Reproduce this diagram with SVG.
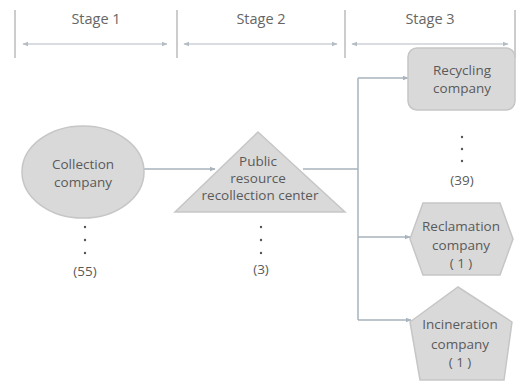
<svg xmlns="http://www.w3.org/2000/svg" width="531" height="387" viewBox="0 0 531 387">
<style>
text{font-family:"Open Sans","Liberation Sans",Arial,sans-serif;font-size:13.5px;fill:#5a5a5a;text-anchor:middle}
.stage{font-size:14.5px;fill:#666}
.bar{stroke:#bbb;stroke-width:1.5}
.span{stroke:#b4bcc4;stroke-width:1.2;fill:none}
.node{fill:#d9d9d9;stroke:#c6c6c6;stroke-width:1.5}
.conn{stroke:#a9b3bd;stroke-width:1.5;fill:none}
.dot{fill:#555}
</style>
<defs>
<marker id="ah" viewBox="0 0 10 10" refX="9" refY="5" markerWidth="5" markerHeight="5" orient="auto-start-reverse">
<path d="M0,1 L10,5 L0,9 z" fill="#b4bcc4"/>
</marker>
<marker id="ca" viewBox="0 0 10 10" refX="9" refY="5" markerWidth="4" markerHeight="4" orient="auto">
<path d="M0,1 L10,5 L0,9 z" fill="#a9b3bd"/>
</marker>
</defs>
<g id="stages">
<line class="bar" x1="15" y1="10" x2="15" y2="58"/>
<line class="bar" x1="177" y1="10" x2="177" y2="58"/>
<line class="bar" x1="345" y1="10" x2="345" y2="58"/>
<line class="bar" x1="515" y1="10" x2="515" y2="58"/>
<line class="span" x1="23" y1="44" x2="167" y2="44" marker-start="url(#ah)" marker-end="url(#ah)"/>
<line class="span" x1="184" y1="44" x2="337" y2="44" marker-start="url(#ah)" marker-end="url(#ah)"/>
<line class="span" x1="352" y1="44" x2="508" y2="44" marker-start="url(#ah)" marker-end="url(#ah)"/>
<text class="stage" x="96" y="24">Stage 1</text>
<text class="stage" x="261" y="24">Stage 2</text>
<text class="stage" x="430" y="24">Stage 3</text>
</g>
<g id="connectors">
<line class="conn" x1="144" y1="169" x2="215" y2="169" marker-end="url(#ca)"/>
<line class="conn" x1="303" y1="169" x2="358" y2="169"/>
<line class="conn" x1="358" y1="78" x2="358" y2="320"/>
<line class="conn" x1="358" y1="78" x2="408" y2="78" marker-end="url(#ca)"/>
<line class="conn" x1="358" y1="237" x2="410" y2="237" marker-end="url(#ca)"/>
<line class="conn" x1="358" y1="320" x2="411" y2="320" marker-end="url(#ca)"/>
</g>
<g id="collection">
<ellipse class="node" cx="83" cy="172" rx="61" ry="46"/>
<text x="83" y="169">Collection</text>
<text x="83" y="187">company</text>
<circle class="dot" cx="85" cy="227" r="1.2"/>
<circle class="dot" cx="85" cy="240" r="1.2"/>
<circle class="dot" cx="85" cy="253" r="1.2"/>
<text x="85" y="276">(55)</text>
</g>
<g id="center">
<polygon class="node" points="258,132 345,212 175,212"/>
<text x="258" y="166">Public</text>
<text x="258" y="183">resource</text>
<text x="260" y="200">recollection center</text>
<circle class="dot" cx="261" cy="227" r="1.2"/>
<circle class="dot" cx="261" cy="240" r="1.2"/>
<circle class="dot" cx="261" cy="253" r="1.2"/>
<text x="261" y="274">(3)</text>
</g>
<g id="recycling">
<rect class="node" x="408" y="48" width="107" height="62" rx="9"/>
<text x="462" y="75">Recycling</text>
<text x="462" y="93">company</text>
<circle class="dot" cx="462" cy="137" r="1.2"/>
<circle class="dot" cx="462" cy="149" r="1.2"/>
<circle class="dot" cx="462" cy="161" r="1.2"/>
<text x="462" y="185">(39)</text>
</g>
<g id="reclamation">
<polygon class="node" points="423,203 500,203 513,239 500,275 423,275 410,239"/>
<text x="461" y="231">Reclamation</text>
<text x="461" y="250">company</text>
<text x="461" y="268">( 1 )</text>
</g>
<g id="incineration">
<polygon class="node" points="458,287 512,322 504,380 420,380 410,322"/>
<text x="460" y="329">Incineration</text>
<text x="460" y="349">company</text>
<text x="460" y="367">( 1 )</text>
</g>
</svg>
